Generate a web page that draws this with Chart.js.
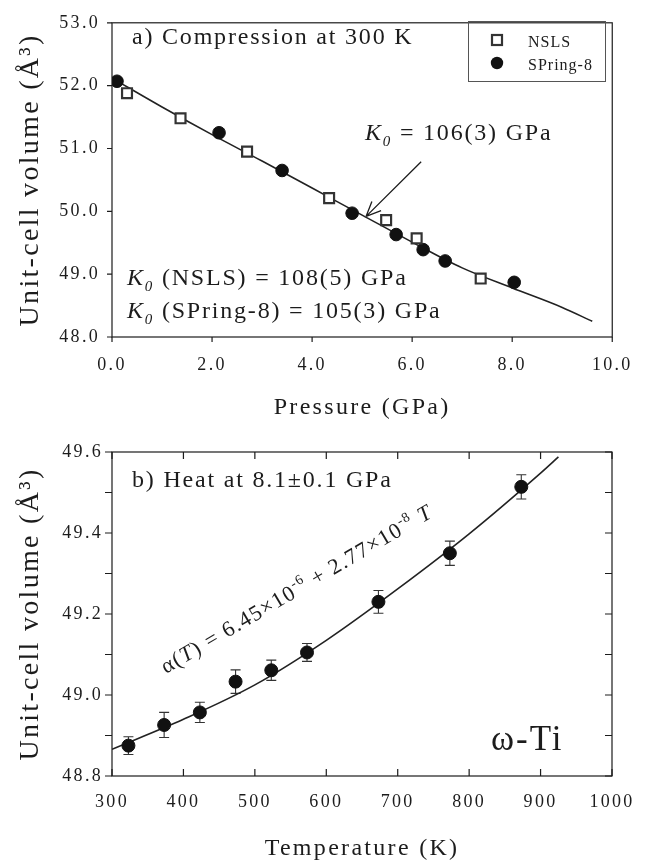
<!DOCTYPE html>
<html>
<head>
<meta charset="utf-8">
<script src="https://cdn.jsdelivr.net/npm/chart.js@4.4.1/dist/chart.umd.min.js"></script>
<style>
  html, body { margin: 0; padding: 0; background: #fff; }
  #wrap { position: relative; width: 645px; height: 864px; }
  canvas { position: absolute; left: 0; }
  #chartA { top: 0; }
  #chartB { top: 430px; }
</style>
</head>
<body>
<div id="wrap">
  <canvas id="chartA" width="645" height="430"></canvas>
  <canvas id="chartB" width="645" height="434"></canvas>
</div>
<script>
// --- panel a: compression at 300 K ---
const pressureNSLS = [0.30, 1.37, 2.70, 4.34, 5.48, 6.09, 7.37];
const volumeNSLS = [51.88, 51.48, 50.95, 50.21, 49.86, 49.57, 48.93];
const pressureSP8 = [0.10, 2.14, 3.40, 4.80, 5.68, 6.22, 6.66, 8.04];
const volumeSP8 = [52.07, 51.25, 50.65, 49.97, 49.63, 49.39, 49.21, 48.87];
const fitPressure = [0, 1, 2, 3, 4, 5, 6, 7, 8, 9, 9.6];
const fitVolumeA = [52.12, 51.66, 51.22, 50.80, 50.37, 49.94, 49.51, 49.10, 48.78, 48.47, 48.25];
const pressureTicks = [0, 2, 4, 6, 8, 10];
const volumeTicksA = [48, 49, 50, 51, 52, 53];
const arrowFrom = [6.18, 50.79];
const arrowTo = [5.08, 49.92];

// --- panel b: heating at 8.1 GPa ---
const temperature = [323, 373, 423, 473, 523, 573, 673, 773, 873];
const volumeB = [48.875, 48.926, 48.957, 49.033, 49.061, 49.105, 49.230, 49.350, 49.514];
const volumeErrB = [0.022, 0.031, 0.025, 0.029, 0.025, 0.022, 0.028, 0.030, 0.030];
const fitTemperature = [300, 400, 500, 600, 700, 800, 900, 925];
const fitVolumeB = [48.866, 48.940, 49.025, 49.135, 49.262, 49.398, 49.548, 49.588];
const temperatureTicks = [300, 400, 500, 600, 700, 800, 900, 1000];
const volumeTicksB = [48.8, 49.0, 49.2, 49.4, 49.6];
const volumeMinorB = [48.9, 49.1, 49.3, 49.5];

const SERIF = '"Liberation Serif", "DejaVu Serif", serif';
const INK = '#1c1c1c';

function pts(xs, ys) {
  return xs.map((x, i) => ({ x: x, y: ys[i] }));
}

// draws a row of text pieces with different fonts / offsets
function drawRuns(ctx, runs, x, y, spacing) {
  let cx = x;
  runs.forEach(r => {
    ctx.font = r.font;
    ctx.letterSpacing = spacing;
    ctx.fillText(r.text, cx, y + (r.dy || 0));
    cx += ctx.measureText(r.text).width;
  });
}

const F24 = '24px ' + SERIF;
const I24 = 'italic 24px ' + SERIF;
const I15 = 'italic 15px ' + SERIF;

// frame, tick marks and letter spacing for axis text
const axisDecor = {
  id: 'axisDecor',
  beforeDraw(chart, args, opts) {
    chart.ctx.letterSpacing = opts.spacing || '0px';
  },
  afterDraw(chart, args, opts) {
    const { ctx, chartArea: a } = chart;
    const sx = chart.scales.x, sy = chart.scales.y;
    ctx.save();
    ctx.letterSpacing = '0px';
    ctx.strokeStyle = INK;
    ctx.lineWidth = 1.2;
    ctx.strokeRect(a.left, a.top, a.right - a.left, a.bottom - a.top);
    ctx.beginPath();
    (opts.marks || []).forEach(m => {
      const d = m.inward ? 1 : -1;
      m.values.forEach(v => {
        if (m.side === 'left' || m.side === 'right') {
          const py = sy.getPixelForValue(v);
          const x0 = m.side === 'left' ? a.left : a.right;
          const dir = m.side === 'left' ? d : -d;
          ctx.moveTo(x0, py);
          ctx.lineTo(x0 + dir * m.len, py);
        } else {
          const px = sx.getPixelForValue(v);
          const y0 = m.side === 'top' ? a.top : a.bottom;
          const dir = m.side === 'top' ? d : -d;
          ctx.moveTo(px, y0);
          ctx.lineTo(px, y0 + dir * m.len);
        }
      });
    });
    ctx.stroke();
    ctx.restore();
  }
};

// panel a: legend box, labels, arrow
const panelAText = {
  id: 'panelAText',
  afterDraw(chart) {
    const { ctx } = chart;
    const sx = chart.scales.x, sy = chart.scales.y;
    ctx.save();
    ctx.fillStyle = INK;
    ctx.textBaseline = 'alphabetic';
    drawRuns(ctx, [{ text: 'a) Compression at 300 K', font: F24 }], 132, 44, '1.8px');
    drawRuns(ctx, [
      { text: 'K', font: I24 }, { text: '0', font: I15, dy: 6 },
      { text: ' = 106(3) GPa', font: F24 }], 365, 140, '1.8px');
    drawRuns(ctx, [
      { text: 'K', font: I24 }, { text: '0', font: I15, dy: 6 },
      { text: ' (NSLS) = 108(5) GPa', font: F24 }], 127, 285, '1.8px');
    drawRuns(ctx, [
      { text: 'K', font: I24 }, { text: '0', font: I15, dy: 6 },
      { text: ' (SPring-8) = 105(3) GPa', font: F24 }], 127, 318, '1.8px');

    // arrow
    const x1 = sx.getPixelForValue(arrowFrom[0]), y1 = sy.getPixelForValue(arrowFrom[1]);
    const x2 = sx.getPixelForValue(arrowTo[0]), y2 = sy.getPixelForValue(arrowTo[1]);
    const ang = Math.atan2(y2 - y1, x2 - x1);
    ctx.strokeStyle = INK;
    ctx.lineWidth = 1.3;
    ctx.beginPath();
    ctx.moveTo(x1, y1);
    ctx.lineTo(x2, y2);
    [0.42, -0.42].forEach(t => {
      ctx.moveTo(x2, y2);
      ctx.lineTo(x2 - 16 * Math.cos(ang + t), y2 - 16 * Math.sin(ang + t));
    });
    ctx.stroke();

    // legend
    ctx.strokeStyle = '#555';
    ctx.lineWidth = 1;
    ctx.strokeRect(468.5, 21.5, 137, 60);
    ctx.fillStyle = '#fff';
    ctx.strokeStyle = '#333';
    ctx.lineWidth = 2.2;
    ctx.fillRect(492, 35, 10, 10);
    ctx.strokeRect(492, 35, 10, 10);
    ctx.fillStyle = '#111';
    ctx.beginPath();
    ctx.arc(497, 63, 6.2, 0, Math.PI * 2);
    ctx.fill();
    ctx.fillStyle = INK;
    drawRuns(ctx, [{ text: 'NSLS', font: '16px ' + SERIF }], 528, 46.5, '1px');
    drawRuns(ctx, [{ text: 'SPring-8', font: '16px ' + SERIF }], 528, 70, '1px');
    ctx.restore();
  }
};

// panel b: error bars and labels
const panelBText = {
  id: 'panelBText',
  beforeDatasetsDraw(chart) {
    const { ctx } = chart;
    const sx = chart.scales.x, sy = chart.scales.y;
    ctx.save();
    ctx.strokeStyle = '#333';
    ctx.lineWidth = 1.1;
    ctx.beginPath();
    temperature.forEach((t, i) => {
      const px = sx.getPixelForValue(t);
      const top = sy.getPixelForValue(volumeB[i] + volumeErrB[i]);
      const bot = sy.getPixelForValue(volumeB[i] - volumeErrB[i]);
      ctx.moveTo(px, top); ctx.lineTo(px, bot);
      ctx.moveTo(px - 5, top); ctx.lineTo(px + 5, top);
      ctx.moveTo(px - 5, bot); ctx.lineTo(px + 5, bot);
    });
    ctx.stroke();
    ctx.restore();
  },
  afterDraw(chart) {
    const { ctx } = chart;
    ctx.save();
    ctx.fillStyle = INK;
    ctx.textBaseline = 'alphabetic';
    drawRuns(ctx, [{ text: 'b) Heat at 8.1\u00b10.1 GPa', font: F24 }], 132, 57, '1.8px');
    drawRuns(ctx, [{ text: '\u03c9-Ti', font: '35px ' + SERIF }], 491, 320, '2px');

    const F22 = '22px ' + SERIF, I22 = 'italic 22px ' + SERIF, S14 = '14px ' + SERIF;
    ctx.translate(166, 244);
    ctx.rotate(-30.5 * Math.PI / 180);
    drawRuns(ctx, [
      { text: '\u03b1(', font: F22 }, { text: 'T', font: I22 },
      { text: ') = 6.45\u00d710', font: F22 }, { text: '-6', font: S14, dy: -9 },
      { text: ' + 2.77\u00d710', font: F22 }, { text: '-8', font: S14, dy: -9 },
      { text: ' ', font: F22 }, { text: 'T', font: I22 }], 0, 0, '1.3px');
    ctx.restore();
  }
};

function tickFont() {
  return { family: SERIF, size: 18 };
}

new Chart(document.getElementById('chartA'), {
  type: 'scatter',
  data: {
    datasets: [
      { label: 'NSLS', data: pts(pressureNSLS, volumeNSLS), pointStyle: 'rect', pointRadius: 7,
        pointBackgroundColor: '#fff', pointBorderColor: '#333', pointBorderWidth: 2.2 },
      { label: 'SPring-8', data: pts(pressureSP8, volumeSP8), pointStyle: 'circle', pointRadius: 6.3,
        pointBackgroundColor: '#111', pointBorderColor: '#111', pointBorderWidth: 1 },
      { label: 'fit', data: pts(fitPressure, fitVolumeA), showLine: true, borderColor: '#222',
        borderWidth: 1.6, pointRadius: 0, cubicInterpolationMode: 'monotone', fill: false }
    ]
  },
  options: {
    responsive: false,
    animation: false,
    layout: { padding: { top: 12, right: 22, left: 0, bottom: 0 } },
    plugins: {
      legend: { display: false },
      tooltip: { enabled: false },
      axisDecor: {
        spacing: '2.3px',
        marks: [
          { side: 'left', values: volumeTicksA, inward: false, len: 5 },
          { side: 'bottom', values: pressureTicks, inward: false, len: 5 }
        ]
      }
    },
    scales: {
      x: {
        type: 'linear', min: 0, max: 10,
        afterBuildTicks: s => { s.ticks = pressureTicks.map(v => ({ value: v })); },
        afterFit: s => { s.height = 93; },
        grid: { display: false, drawTicks: false },
        border: { display: false },
        ticks: { color: INK, font: tickFont(), padding: 17, maxRotation: 0, autoSkip: false,
                 callback: v => v.toFixed(1) },
        title: { display: true, text: 'Pressure (GPa)', color: INK,
                 font: { family: SERIF, size: 24 }, padding: { bottom: 8 } }
      },
      y: {
        type: 'linear', min: 48, max: 53,
        afterBuildTicks: s => { s.ticks = volumeTicksA.map(v => ({ value: v })); },
        afterFit: s => { s.width = 112; },
        grid: { display: false, drawTicks: false },
        border: { display: false },
        ticks: { color: INK, font: tickFont(), padding: 12, callback: v => v.toFixed(1) },
        title: { display: true, text: 'Unit-cell volume (\u00c5\u00b3)', color: INK,
                 font: { family: SERIF, size: 28 }, padding: { top: 14 } }
      }
    }
  },
  plugins: [axisDecor, panelAText]
});

new Chart(document.getElementById('chartB'), {
  type: 'scatter',
  data: {
    datasets: [
      { label: 'data', data: pts(temperature, volumeB), pointStyle: 'circle', pointRadius: 6.5,
        pointBackgroundColor: '#111', pointBorderColor: '#111', pointBorderWidth: 1 },
      { label: 'fit', data: pts(fitTemperature, fitVolumeB), showLine: true, borderColor: '#222',
        borderWidth: 1.6, pointRadius: 0, cubicInterpolationMode: 'monotone', fill: false }
    ]
  },
  options: {
    responsive: false,
    animation: false,
    layout: { padding: { top: 22, right: 22, left: 0, bottom: 0 } },
    plugins: {
      legend: { display: false },
      tooltip: { enabled: false },
      axisDecor: {
        spacing: '2.3px',
        marks: [
          { side: 'left', values: volumeTicksB.concat(volumeMinorB), inward: false, len: 7 },
          { side: 'right', values: volumeTicksB.concat(volumeMinorB), inward: true, len: 7 },
          { side: 'top', values: temperatureTicks, inward: true, len: 7 },
          { side: 'bottom', values: temperatureTicks, inward: true, len: 7 }
        ]
      }
    },
    scales: {
      x: {
        type: 'linear', min: 300, max: 1000,
        afterBuildTicks: s => { s.ticks = temperatureTicks.map(v => ({ value: v })); },
        afterFit: s => { s.height = 88; },
        grid: { display: false, drawTicks: false },
        border: { display: false },
        ticks: { color: INK, font: tickFont(), padding: 15, maxRotation: 0, autoSkip: false,
                 callback: v => String(v) },
        title: { display: true, text: 'Temperature (K)', color: INK,
                 font: { family: SERIF, size: 24 }, padding: { bottom: 1 } }
      },
      y: {
        type: 'linear', min: 48.8, max: 49.6,
        afterBuildTicks: s => { s.ticks = volumeTicksB.map(v => ({ value: v })); },
        afterFit: s => { s.width = 112; },
        grid: { display: false, drawTicks: false },
        border: { display: false },
        ticks: { color: INK, font: tickFont(), padding: 9, callback: v => v.toFixed(1) },
        title: { display: true, text: 'Unit-cell volume (\u00c5\u00b3)', color: INK,
                 font: { family: SERIF, size: 28 }, padding: { top: 14 } }
      }
    }
  },
  plugins: [axisDecor, panelBText]
});
</script>
</body>
</html>
